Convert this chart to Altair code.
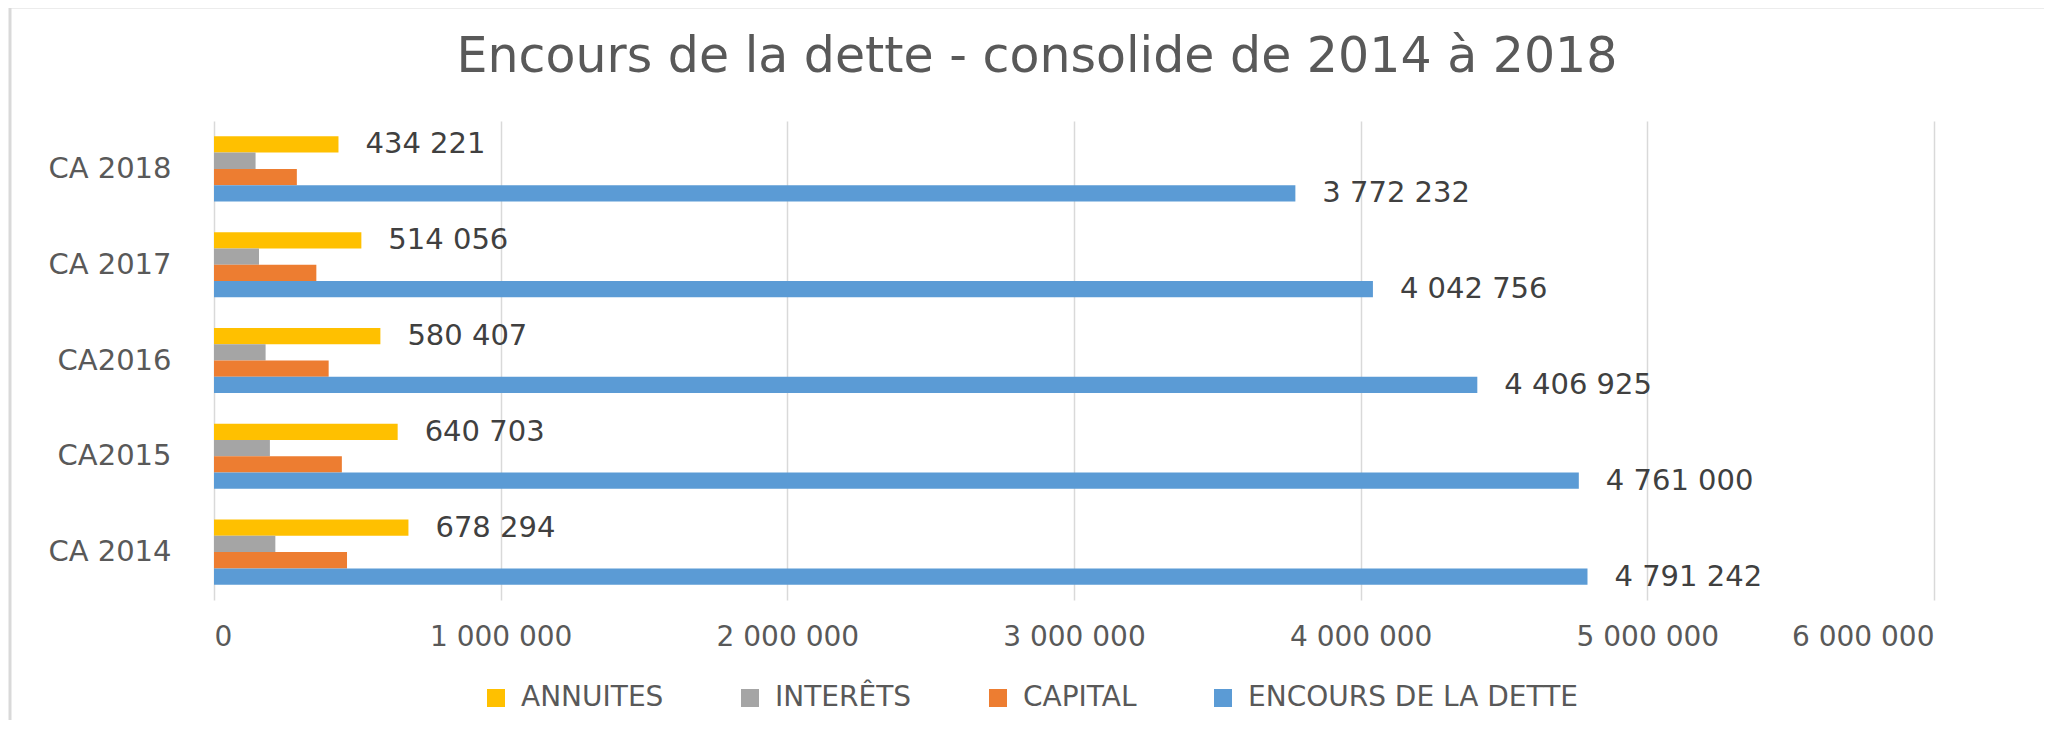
import altair as alt
import pandas as pd

categories = ["CA 2018", "CA 2017", "CA2016", "CA2015", "CA 2014"]
series = ["ANNUITES", "INTERÊTS", "CAPITAL", "ENCOURS DE LA DETTE"]
colors = ["#FFC000", "#A5A5A5", "#ED7D31", "#5B9BD5"]

annuites = [434221, 514056, 580407, 640703, 678294]
interets = [145000, 157000, 180000, 195000, 214000]
capital = [289000, 357000, 400000, 446000, 464000]
encours = [3772232, 4042756, 4406925, 4761000, 4791242]

x_ticks = [0, 1000000, 2000000, 3000000, 4000000, 5000000, 6000000]


def fmt(v):
    return f"{v:,}".replace(",", " ")


rows = []
for i, cat in enumerate(categories):
    for s, vals in zip(series, [annuites, interets, capital, encours]):
        lab = fmt(vals[i]) if s in ("ANNUITES", "ENCOURS DE LA DETTE") else ""
        rows.append({"cat": cat, "serie": s, "value": vals[i], "label": lab})
df = pd.DataFrame(rows)

FONT = "DejaVu Sans"

y_enc = alt.Y(
    "cat:N",
    sort=categories,
    title=None,
    scale=alt.Scale(paddingInner=0.32, paddingOuter=0.16),
    axis=alt.Axis(
        labelFont=FONT,
        labelFontSize=29,
        labelColor="#595959",
        labelPadding=43,
        ticks=False,
        domain=False,
        grid=False,
    ),
)
x_enc = alt.X(
    "value:Q",
    title=None,
    scale=alt.Scale(domain=[0, 6000000], nice=False),
    axis=alt.Axis(
        values=x_ticks,
        labelExpr="replace(replace(format(datum.value, ','), ',', ' '), ',', ' ')",
        labelFont=FONT,
        labelFontSize=28,
        labelColor="#595959",
        labelPadding=23,
        ticks=False,
        domain=False,
        grid=True,
        gridColor="#D9D9D9",
        gridWidth=1.5,
    ),
)
yoff = alt.YOffset("serie:N", sort=series, scale=alt.Scale(paddingInner=0, paddingOuter=0))

bars = alt.Chart(df).mark_bar().encode(
    y=y_enc,
    x=x_enc,
    yOffset=yoff,
    color=alt.Color(
        "serie:N",
        sort=series,
        scale=alt.Scale(domain=series, range=colors),
        legend=alt.Legend(
            title=None,
            orient="none",
            direction="horizontal",
            legendX=268,
            legendY=563,
            symbolType="square",
            symbolSize=324,
            symbolStrokeWidth=0,
            labelFont=FONT,
            labelFontSize=28,
            labelColor="#595959",
            labelOffset=11,
            columnPadding=72,
            labelLimit=600,
        ),
    ),
)

texts = alt.Chart(df).mark_text(
    align="left", baseline="middle", dx=27, font=FONT, fontSize=29, color="#404040"
).encode(
    y=alt.Y("cat:N", sort=categories),
    x="value:Q",
    yOffset=alt.YOffset("serie:N", sort=series),
    text="label:N",
)

frame_df = pd.DataFrame({"k": [0]})
frame_left = alt.Chart(frame_df).mark_rule(color="#D9D9D9", strokeWidth=3).encode(
    x=alt.value(-204), y=alt.value(-115), y2=alt.value(620)
)
frame_top = alt.Chart(frame_df).mark_rule(color="#D9D9D9", strokeWidth=3).encode(
    x=alt.value(-205), x2=alt.value(1830), y=alt.value(-114)
)

chart = (
    alt.layer(bars, texts, frame_left, frame_top)
    .properties(
        width=1720,
        height=479,
        autosize=alt.AutoSizeParams(type="none"),
        padding={"left": 206, "top": 113, "right": 110, "bottom": 120},
        title=alt.TitleParams(
            "Encours de la dette - consolide de 2014 à 2018",
            font=FONT,
            fontSize=49,
            fontWeight="normal",
            color="#595959",
            anchor="middle",
            dx=-37,
            offset=-116,
            baseline="alphabetic",
        ),
    )
    .configure_view(stroke=None)
)

chart.save("out.html", embed_options={"renderer": "svg", "actions": False})
